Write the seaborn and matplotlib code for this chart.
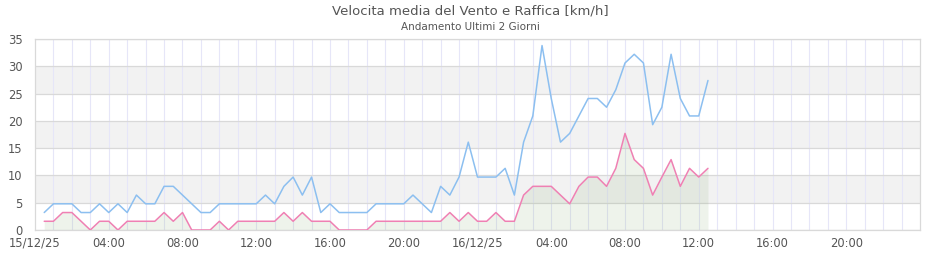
import numpy as np
import pandas as pd
import matplotlib
matplotlib.use("Agg")
import matplotlib.pyplot as plt
import matplotlib.dates as mdates
from matplotlib.ticker import FixedLocator
import seaborn as sns

# ---- data ----
start_time = "2025-12-15 00:30"
n_points = 73
gust = [3.2, 4.8, 4.8, 4.8, 3.2, 3.2, 4.8, 3.2, 4.8, 3.2, 6.4, 4.8,
        4.8, 8.0, 8.0, 6.4, 4.8, 3.2, 3.2, 4.8, 4.8, 4.8, 4.8, 4.8,
        6.4, 4.8, 8.0, 9.7, 6.4, 9.7, 3.2, 4.8, 3.2, 3.2, 3.2, 3.2,
        4.8, 4.8, 4.8, 4.8, 6.4, 4.8, 3.2, 8.0, 6.4, 9.7, 16.1, 9.7,
        9.7, 9.7, 11.3, 6.4, 16.1, 20.9, 33.8, 24.1, 16.1, 17.7, 20.9, 24.1,
        24.1, 22.5, 25.7, 30.6, 32.2, 30.6, 19.3, 22.5, 32.2, 24.1, 20.9, 20.9,
        27.4]
wind = [1.6, 1.6, 3.2, 3.2, 1.6, 0.0, 1.6, 1.6, 0.0, 1.6, 1.6, 1.6,
        1.6, 3.2, 1.6, 3.2, 0.0, 0.0, 0.0, 1.6, 0.0, 1.6, 1.6, 1.6,
        1.6, 1.6, 3.2, 1.6, 3.2, 1.6, 1.6, 1.6, 0.0, 0.0, 0.0, 0.0,
        1.6, 1.6, 1.6, 1.6, 1.6, 1.6, 1.6, 1.6, 3.2, 1.6, 3.2, 1.6,
        1.6, 3.2, 1.6, 1.6, 6.4, 8.0, 8.0, 8.0, 6.4, 4.8, 8.0, 9.7,
        9.7, 8.0, 11.3, 17.7, 12.9, 11.3, 6.4, 9.7, 12.9, 8.0, 11.3, 9.7,
        11.3]
tick_labels = ["15/12/25", "04:00", "08:00", "12:00", "16:00", "20:00",
               "16/12/25", "04:00", "08:00", "12:00", "16:00", "20:00"]
y_ticks = [0, 5, 10, 15, 20, 25, 30, 35]
title = "Velocita media del Vento e Raffica [km/h]"
subtitle = "Andamento Ultimi 2 Giorni"

times = pd.date_range(start_time, periods=n_points, freq="30min")
df = pd.DataFrame({"time": times, "gust": gust, "wind": wind})

sns.set_style("white")
plt.rcParams["font.family"] = ["DejaVu Sans"]

fig = plt.figure(figsize=(9.4, 2.6), dpi=100)
ax = fig.add_axes([35/940, 1-230/260, 885/940, 191/260])

x0 = pd.Timestamp("2025-12-15 00:00")
x1 = pd.Timestamp("2025-12-17 00:00")

# bands
for lo in (5, 15, 25):
    ax.axhspan(lo, lo + 5, color="#f2f2f2", zorder=0, lw=0)

# vertical hourly grid
hours = pd.date_range(x0, x1, freq="1h")
for h in hours[1:-1]:
    ax.axvline(h, color="#e6e6f8", lw=0.8, zorder=0.5)
for yv in y_ticks:
    ax.axhline(yv, color="#d9d9d9", lw=0.9, zorder=0.6)

ax.fill_between(df["time"], df["wind"], 0, color="#7fa86a", alpha=0.13, lw=0, zorder=1)
sns.lineplot(data=df, x="time", y="gust", ax=ax, color="#8cbff0", lw=1.1, zorder=3)
sns.lineplot(data=df, x="time", y="wind", ax=ax, color="#ef80b3", lw=1.1, zorder=3)

ax.set_xlim(x0, x1)
ax.set_ylim(0, 35)
ax.set_yticks(y_ticks)
ax.set_yticklabels([str(v) for v in y_ticks])
tick_pos = pd.date_range(x0, periods=len(tick_labels), freq="4h")
ax.xaxis.set_major_locator(FixedLocator(mdates.date2num(tick_pos)))
ax.set_xticklabels(tick_labels)
ax.set_xlabel("")
ax.set_ylabel("")
ax.tick_params(axis="both", length=0, labelsize=8.3, colors="#555555")
ax.tick_params(axis="x", pad=5)
ax.tick_params(axis="y", pad=9)
for s in ax.spines.values():
    s.set_color("#d9d9d9")
    s.set_linewidth(0.9)

fig.text(0.5, 1 - 11/260, title, ha="center", va="center", fontsize=9.5, color="#555555")
fig.text(0.5, 1 - 27/260, subtitle, ha="center", va="center", fontsize=7.5, color="#555555")

fig.savefig("out.png", dpi=100)
